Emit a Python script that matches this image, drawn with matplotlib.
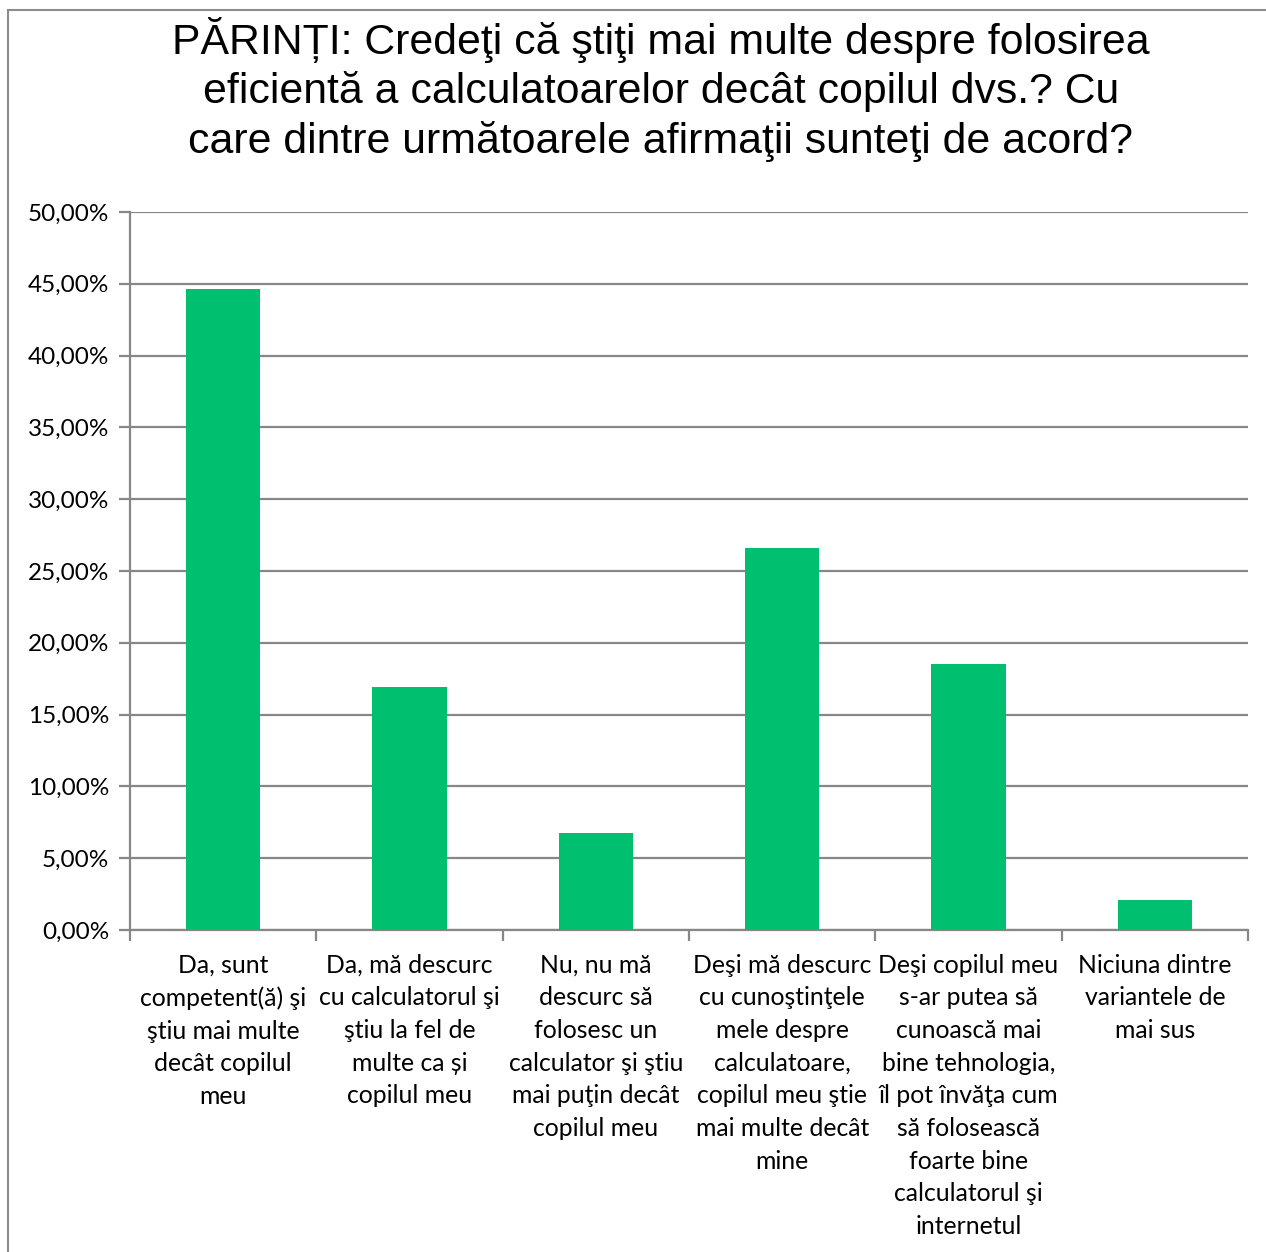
import matplotlib
matplotlib.use('Agg')
import matplotlib.pyplot as plt
from matplotlib.patches import Rectangle
from matplotlib.ticker import FuncFormatter

title = ('PĂRINȚI: Credeţi că ştiţi mai multe despre folosirea\n'
         'eficientă a calculatoarelor decât copilul dvs.? Cu\n'
         'care dintre următoarele afirmaţii sunteţi de acord?')

categories = [
    'Da, sunt\ncompetent(ă) şi\nştiu mai multe\ndecât copilul\nmeu',
    'Da, mă descurc\ncu calculatorul şi\nştiu la fel de\nmulte ca și\ncopilul meu',
    'Nu, nu mă\ndescurc să\nfolosesc un\ncalculator şi ştiu\nmai puţin decât\ncopilul meu',
    'Deşi mă descurc\ncu cunoştinţele\nmele despre\ncalculatoare,\ncopilul meu ştie\nmai multe decât\nmine',
    'Deşi copilul meu\ns-ar putea să\ncunoască mai\nbine tehnologia,\nîl pot învăţa cum\nsă folosească\nfoarte bine\ncalculatorul şi\ninternetul',
    'Niciuna dintre\nvariantele de\nmai sus',
]
values = [44.64, 16.92, 6.75, 26.60, 18.52, 2.09]

W, H = 1266, 1252
fig = plt.figure(figsize=(W / 100, H / 100), dpi=100)
fig.patches.append(Rectangle((8 / W, -0.1), 1.2, 1 - 10 / H + 0.1,
                             transform=fig.transFigure, fill=False,
                             edgecolor='#8c8c8c', linewidth=1.5))

ax = fig.add_axes([130 / W, 1 - 930 / H, 1118 / W, 718 / H])
x = range(len(values))
ax.bar(x, values, width=0.4, color='#00bf6f', zorder=3)

ax.set_xlim(-0.5, len(values) - 0.5)
ax.set_ylim(0, 50)
ax.set_yticks(range(0, 51, 5))
ax.yaxis.set_major_formatter(FuncFormatter(lambda v, p: f'{v:.2f}%'.replace('.', ',')))
ax.grid(axis='y', color='#878787', linewidth=1.6, zorder=0)

ax.set_xticks([i + 0.5 for i in range(-1, len(values))])
ax.set_xticklabels([])
ax.set_xticks(list(x), minor=True)
ax.set_xticklabels(categories, minor=True, fontsize=17.8, family='Lato',
                   linespacing=1.508, va='top')
ax.tick_params(axis='x', which='minor', length=0, pad=17)
ax.tick_params(axis='x', which='major', length=8, width=1.6, color='#878787')
ax.tick_params(axis='y', length=8, width=1.6, color='#878787', pad=7,
               labelsize=17.5)
for lbl in ax.get_yticklabels():
    lbl.set_family('Lato')

for side in ('top', 'right'):
    ax.spines[side].set_visible(False)
for side in ('left', 'bottom'):
    ax.spines[side].set_color('#878787')
    ax.spines[side].set_linewidth(1.6)

fig.text(0.522, 1 - 17 / H, title, ha='center', va='top', fontsize=30.8,
         family='Liberation Sans', linespacing=1.26)

fig.savefig('out.png', dpi=100)
